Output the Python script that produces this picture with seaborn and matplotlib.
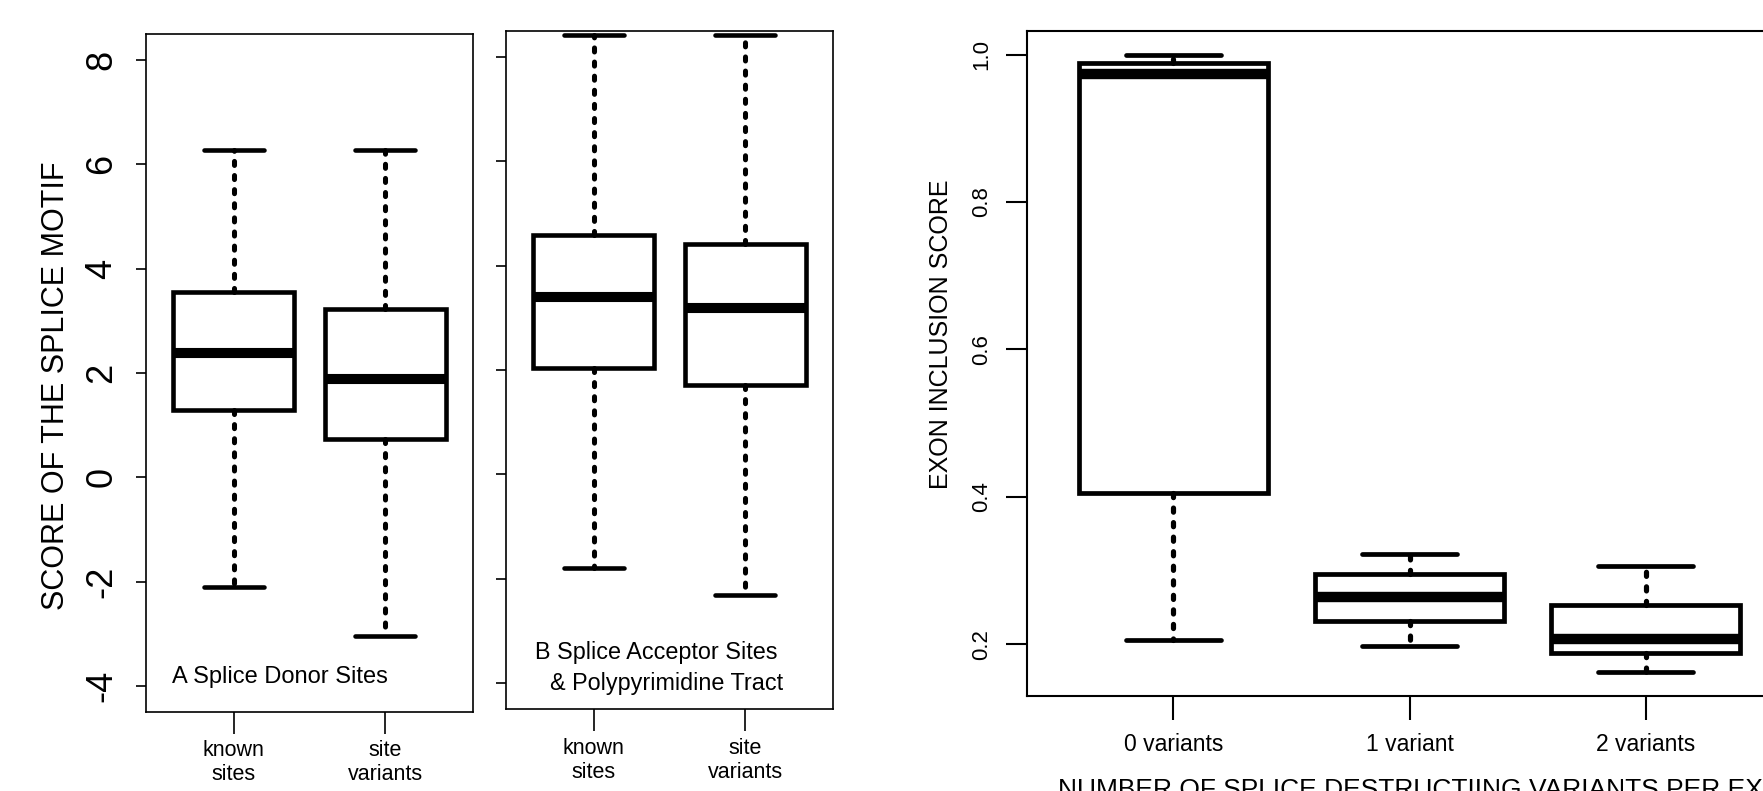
import numpy as np
import pandas as pd
import matplotlib
matplotlib.use("Agg")
import matplotlib.pyplot as plt
import seaborn as sns

# ---------------- data (five-number summaries) ----------------
site_groups = ["known\nsites", "site\nvariants"]

donor_low = [-2.11, -3.04]
donor_q1 = [1.29, 0.73]
donor_median = [2.385, 1.88]
donor_q3 = [3.55, 3.22]
donor_high = [6.27, 6.27]

acceptor_low = [-1.79, -2.32]
acceptor_q1 = [2.03, 1.72]
acceptor_median = [3.40, 3.185]
acceptor_q3 = [4.59, 4.42]
acceptor_high = [8.42, 8.43]

variant_groups = ["0 variants", "1 variant", "2 variants"]
incl_low = [0.206, 0.198, 0.162]
incl_q1 = [0.405, 0.232, 0.188]
incl_median = [0.974, 0.264, 0.207]
incl_q3 = [0.988, 0.296, 0.254]
incl_high = [0.999, 0.322, 0.307]

score_ticks = [-4, -2, 0, 2, 4, 6, 8]
score_ticklabels = ["-4", "-2", "0", "2", "4", "6", "8"]
incl_ticks = [0.2, 0.4, 0.6, 0.8, 1.0]
incl_ticklabels = ["0.2", "0.4", "0.6", "0.8", "1.0"]

# ---------------- style ----------------
sns.set_style("ticks")
plt.rcParams["font.family"] = ["Liberation Sans", "DejaVu Sans"]
plt.rcParams["text.color"] = "black"
plt.rcParams["axes.labelcolor"] = "black"


def summary_frame(groups, low, q1, med, q3, high):
    rows = []
    for g, a, b, c, d, e in zip(groups, low, q1, med, q3, high):
        for v in (a, b, c, d, e):
            rows.append({"group": g, "value": v})
    return pd.DataFrame(rows)


def draw_box(ax, df, order, lw):
    sns.boxplot(
        data=df, x="group", y="value", order=order, ax=ax,
        whis=(0, 100), width=0.8, color="white", linecolor="black",
        linewidth=lw, fliersize=0,
        boxprops=dict(linewidth=lw, joinstyle="miter"),
        whiskerprops=dict(linewidth=lw * 1.1, linestyle=(0, (0.8, 2.0)),
                          dash_capstyle="round"),
        capprops=dict(linewidth=lw, solid_capstyle="round"),
        medianprops=dict(linewidth=lw * 2.2, solid_capstyle="butt"),
    )
    ax.set_xlabel("")
    ax.set_ylabel("")


W, H = 1763, 791
fig = plt.figure(figsize=(W / 100, H / 100), dpi=100)


def rect(left, top, right, bottom):
    return [left / W, (H - bottom) / H, (right - left) / W, (bottom - top) / H]


axA = fig.add_axes(rect(146, 34, 473, 712))
axB = fig.add_axes(rect(506, 31, 833, 709))
axC = fig.add_axes(rect(1027, 31, 1792, 696))

dfA = summary_frame(site_groups, donor_low, donor_q1, donor_median, donor_q3, donor_high)
dfB = summary_frame(site_groups, acceptor_low, acceptor_q1, acceptor_median, acceptor_q3, acceptor_high)
dfC = summary_frame(variant_groups, incl_low, incl_q1, incl_median, incl_q3, incl_high)

draw_box(axA, dfA, site_groups, 3.3)
draw_box(axB, dfB, site_groups, 3.3)
draw_box(axC, dfC, variant_groups, 3.4)

# panel A / B
for ax, xpad in ((axA, 4), (axB, 5)):
    ax.set_xlim(-0.58, 1.58)
    ax.set_ylim(-4.5, 8.5)
    for s in ax.spines.values():
        s.set_linewidth(1.2)
        s.set_color("black")
    ax.tick_params(axis="x", length=16, width=1.2, pad=xpad, labelsize=15.5, colors="black")
    ax.tick_params(axis="y", length=7, width=1.2, pad=12, colors="black")

axA.set_yticks(score_ticks, score_ticklabels, rotation=90, va="center", fontsize=26)
axB.set_yticks(score_ticks)
axB.tick_params(axis="y", labelleft=False)

axA.set_ylabel("SCORE OF THE SPLICE MOTIF", fontsize=22, va="center")
axA.yaxis.set_label_coords(-0.275, 0.481)

axA.text(-0.41, -3.82, "A Splice Donor Sites", fontsize=17, ha="left", va="center")
axB.text(-0.39, -3.41, "B Splice Acceptor Sites", fontsize=16.8, ha="left", va="center")
axB.text(-0.29, -4.02, "& Polypyrimidine Tract", fontsize=16.8, ha="left", va="center")

# panel C
axC.set_xlim(-0.62, 2.62)
axC.set_ylim(0.13, 1.032)
for s in axC.spines.values():
    s.set_linewidth(1.5)
    s.set_color("black")
axC.set_yticks(incl_ticks, incl_ticklabels, rotation=90, va="center", fontsize=16)
axC.tick_params(axis="y", length=15, width=1.5, pad=10, colors="black")
axC.tick_params(axis="x", length=17, width=1.5, pad=9.5, labelsize=16.5, colors="black")
axC.set_ylabel("EXON INCLUSION SCORE", fontsize=18, va="center")
axC.yaxis.set_label_coords(-0.1124, 0.544)

fig.text(1058 / W, (H - 778) / H, "NUMBER OF SPLICE DESTRUCTIING VARIANTS PER EXON",
         fontsize=19, ha="left", va="top")

fig.savefig("out.png", dpi=100)
